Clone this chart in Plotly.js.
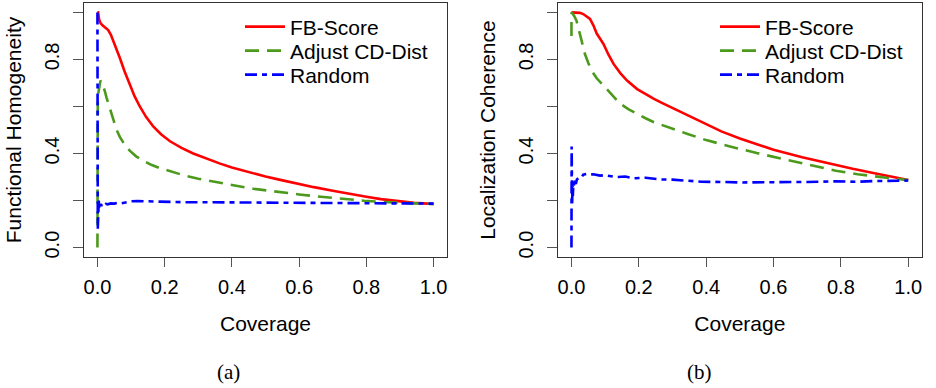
<!DOCTYPE html>
<html>
<head>
<meta charset="utf-8">
<script src="https://cdn.plot.ly/plotly-3.0.1.min.js"></script>
<style>html,body{margin:0;padding:0;background:#fff;}#chart{width:936px;height:388px;}</style>
</head>
<body>
<div id="chart"></div>
<script>
// ---- Data ----
const seriesNames = ['FB-Score', 'Adjust CD-Dist', 'Random'];
const xTickVals = [0, 0.2, 0.4, 0.6, 0.8, 1.0];
const xTickText = ['0.0', '0.2', '0.4', '0.6', '0.8', '1.0'];
const yTickVals = [0, 0.2, 0.4, 0.6, 0.8, 1.0];
const yTickText = ['0.0', '', '0.4', '', '0.8', ''];

// Panel (a): Functional Homogeneity
const fbA_x = [0, 0.002, 0.005, 0.009, 0.015, 0.022, 0.032, 0.04, 0.047, 0.057, 0.067, 0.08, 0.096, 0.11, 0.126, 0.145, 0.166, 0.19, 0.216, 0.25, 0.285, 0.32, 0.365, 0.4, 0.445, 0.5, 0.544, 0.6, 0.644, 0.7, 0.743, 0.8, 0.843, 0.9, 0.942, 0.982, 1.0];
const fbA_y = [1.0, 1.0, 0.97, 0.955, 0.945, 0.935, 0.925, 0.905, 0.88, 0.845, 0.805, 0.752, 0.692, 0.645, 0.6, 0.555, 0.515, 0.481, 0.452, 0.424, 0.4, 0.38, 0.357, 0.341, 0.322, 0.302, 0.288, 0.27, 0.257, 0.242, 0.23, 0.216, 0.206, 0.197, 0.19, 0.187, 0.186];
const cdA_x = [0, 0.0, 0.001, 0.003, 0.006, 0.009, 0.013, 0.017, 0.022, 0.027, 0.035, 0.047, 0.057, 0.067, 0.08, 0.096, 0.115, 0.136, 0.16, 0.186, 0.22, 0.26, 0.3, 0.335, 0.4, 0.464, 0.5, 0.55, 0.6, 0.644, 0.7, 0.75, 0.793, 0.85, 0.9, 0.942, 1.0];
const cdA_y = [0.0, 0.3, 0.62, 0.66, 0.69, 0.71, 0.705, 0.69, 0.665, 0.638, 0.6, 0.54, 0.5, 0.47, 0.44, 0.412, 0.388, 0.37, 0.352, 0.338, 0.322, 0.306, 0.293, 0.283, 0.266, 0.25, 0.243, 0.233, 0.226, 0.219, 0.211, 0.204, 0.199, 0.194, 0.19, 0.188, 0.186];
const rnA_x = [0, 0.0005, 0.001, 0.0015, 0.002, 0.0025, 0.003, 0.004, 0.005, 0.006, 0.008, 0.01, 0.013, 0.016, 0.02, 0.025, 0.03, 0.04, 0.05, 0.06, 0.07, 0.08, 0.09, 0.1, 0.12, 0.14, 0.16, 0.2, 0.25, 0.3, 0.4, 0.5, 0.6, 0.7, 0.8, 0.9, 1.0];
const rnA_y = [1.0, 0.5, 0.08, 0.3, 0.14, 0.22, 0.16, 0.2, 0.17, 0.19, 0.175, 0.185, 0.178, 0.188, 0.182, 0.186, 0.184, 0.188, 0.187, 0.19, 0.188, 0.192, 0.195, 0.197, 0.198, 0.197, 0.196, 0.194, 0.193, 0.193, 0.192, 0.191, 0.19, 0.19, 0.189, 0.188, 0.187];

// Panel (b): Localization Coherence
const fbB_x = [0, 0.005, 0.015, 0.025, 0.035, 0.045, 0.055, 0.065, 0.075, 0.085, 0.095, 0.11, 0.125, 0.145, 0.165, 0.195, 0.22, 0.245, 0.27, 0.295, 0.32, 0.345, 0.37, 0.4, 0.445, 0.5, 0.535, 0.6, 0.685, 0.75, 0.835, 0.9, 0.935, 0.97, 1.0];
const fbB_y = [1.0, 1.0, 1.0, 0.998, 0.993, 0.984, 0.972, 0.945, 0.91, 0.888, 0.866, 0.82, 0.781, 0.742, 0.71, 0.674, 0.652, 0.632, 0.614, 0.597, 0.579, 0.561, 0.543, 0.522, 0.494, 0.464, 0.446, 0.416, 0.384, 0.362, 0.335, 0.316, 0.306, 0.296, 0.287];
const cdB_x = [0, 0.0, 0.003, 0.008, 0.015, 0.025, 0.032, 0.04, 0.05, 0.06, 0.075, 0.095, 0.12, 0.145, 0.17, 0.195, 0.22, 0.245, 0.28, 0.315, 0.345, 0.4, 0.445, 0.485, 0.55, 0.6, 0.635, 0.7, 0.785, 0.85, 0.9, 0.935, 0.97, 1.0];
const cdB_y = [0.9, 1.0, 0.995, 0.985, 0.965, 0.908, 0.86, 0.823, 0.785, 0.752, 0.72, 0.688, 0.65, 0.611, 0.588, 0.568, 0.55, 0.533, 0.515, 0.497, 0.483, 0.457, 0.439, 0.425, 0.402, 0.386, 0.372, 0.353, 0.327, 0.312, 0.302, 0.297, 0.292, 0.287];
const rnB_x = [0, 0.0005, 0.001, 0.0015, 0.002, 0.003, 0.004, 0.005, 0.006, 0.008, 0.01, 0.013, 0.016, 0.02, 0.025, 0.03, 0.035, 0.045, 0.055, 0.065, 0.085, 0.1, 0.13, 0.16, 0.185, 0.22, 0.26, 0.3, 0.385, 0.45, 0.5, 0.585, 0.65, 0.7, 0.785, 0.85, 0.9, 0.95, 1.0];
const rnB_y = [0.0, 0.43, 0.1, 0.33, 0.18, 0.27, 0.22, 0.25, 0.28, 0.26, 0.285, 0.27, 0.29, 0.295, 0.3, 0.298, 0.31, 0.313, 0.31, 0.312, 0.306, 0.308, 0.3, 0.302, 0.295, 0.297, 0.29, 0.289, 0.28, 0.279, 0.277, 0.278, 0.277, 0.279, 0.282, 0.28, 0.283, 0.284, 0.285];

// ---- Styling ----
const FONT = 'Liberation Sans, Arial, sans-serif';
const SERIF = 'Liberation Serif, Times New Roman, serif';
const FS = 21;
const colors = ['#ff0000', '#4c9a1c', '#0000ff'];
const dashes = ['solid', '14px,8px', '12px,5px,5px,5px'];
const LW = 2.6;

function mk(x, y, i, xa, ya, leg) {
  return {
    x: x, y: y, type: 'scatter', mode: 'lines', name: seriesNames[i],
    xaxis: xa, yaxis: ya, legend: leg,
    line: {color: colors[i], width: LW, dash: dashes[i]},
    hoverinfo: 'x+y'
  };
}

const traces = [
  mk(fbA_x, fbA_y, 0, 'x', 'y', 'legend'),
  mk(cdA_x, cdA_y, 1, 'x', 'y', 'legend2'),
  mk(rnA_x, rnA_y, 2, 'x', 'y', 'legend3'),
  mk(fbB_x, fbB_y, 0, 'x2', 'y2', 'legend4'),
  mk(cdB_x, cdB_y, 1, 'x2', 'y2', 'legend5'),
  mk(rnB_x, rnB_y, 2, 'x2', 'y2', 'legend6')
];

function xax(dom, anchor) {
  return {
    domain: dom, anchor: anchor, range: [-0.04, 1.04],
    tickvals: xTickVals, ticktext: xTickText,
    ticks: 'outside', ticklen: 9, tickwidth: 1.2, tickcolor: '#555',
    ticklabelstandoff: 3,
    showline: true, mirror: true, linecolor: '#333', linewidth: 1.3,
    showgrid: false, zeroline: false,
    tickfont: {family: FONT, size: 20, color: '#000'},
    title: {text: 'Coverage', font: {family: FONT, size: FS, color: '#000'}, standoff: 19}
  };
}
function yax(dom, anchor, title) {
  return {
    domain: dom, anchor: anchor, range: [-0.04, 1.04],
    tickvals: yTickVals, ticktext: yTickText, tickangle: -90,
    ticks: 'outside', ticklen: 10, tickwidth: 1.2, tickcolor: '#555',
    ticklabelstandoff: 6,
    showline: true, mirror: true, linecolor: '#333', linewidth: 1.3,
    showgrid: false, zeroline: false,
    tickfont: {family: FONT, size: 20, color: '#000'},
    title: {text: title, font: {family: FONT, size: FS, color: '#000'}, standoff: 13}
  };
}

const legendBase = {
  font: {family: FONT, size: FS, color: '#000'},
  bgcolor: 'rgba(0,0,0,0)', borderwidth: 0,
  xanchor: 'left', yanchor: 'middle', itemwidth: 40
};
function leg(px, py) {
  return Object.assign({}, legendBase, {x: px / 936, y: 1 - py / 388});
}

const layout = {
  width: 936, height: 388,
  margin: {l: 0, r: 0, t: 0, b: 0},
  paper_bgcolor: '#fff', plot_bgcolor: '#fff',
  showlegend: true,
  xaxis: xax([84/936, 447/936], 'y'),
  yaxis: yax([1 - 257/388, 1 - 3/388], 'x', 'Functional Homogeneity'),
  xaxis2: xax([558/936, 921.7/936], 'y2'),
  yaxis2: yax([1 - 257/388, 1 - 3/388], 'x2', 'Localization Coherence'),
  legend: leg(240, 27), legend2: leg(240, 51), legend3: leg(240, 75),
  legend4: leg(715, 27), legend5: leg(715, 51), legend6: leg(715, 75),
  annotations: [
    {text: '(a)', x: 228/936, y: 1 - 372/388, xref: 'paper', yref: 'paper', showarrow: false,
     xanchor: 'center', yanchor: 'middle',
     font: {family: SERIF, size: 21, color: '#000'}},
    {text: '(b)', x: 699/936, y: 1 - 372/388, xref: 'paper', yref: 'paper', showarrow: false,
     xanchor: 'center', yanchor: 'middle',
     font: {family: SERIF, size: 21, color: '#000'}}
  ]
};

Plotly.newPlot('chart', traces, layout, {displayModeBar: false});
</script>
</body>
</html>
